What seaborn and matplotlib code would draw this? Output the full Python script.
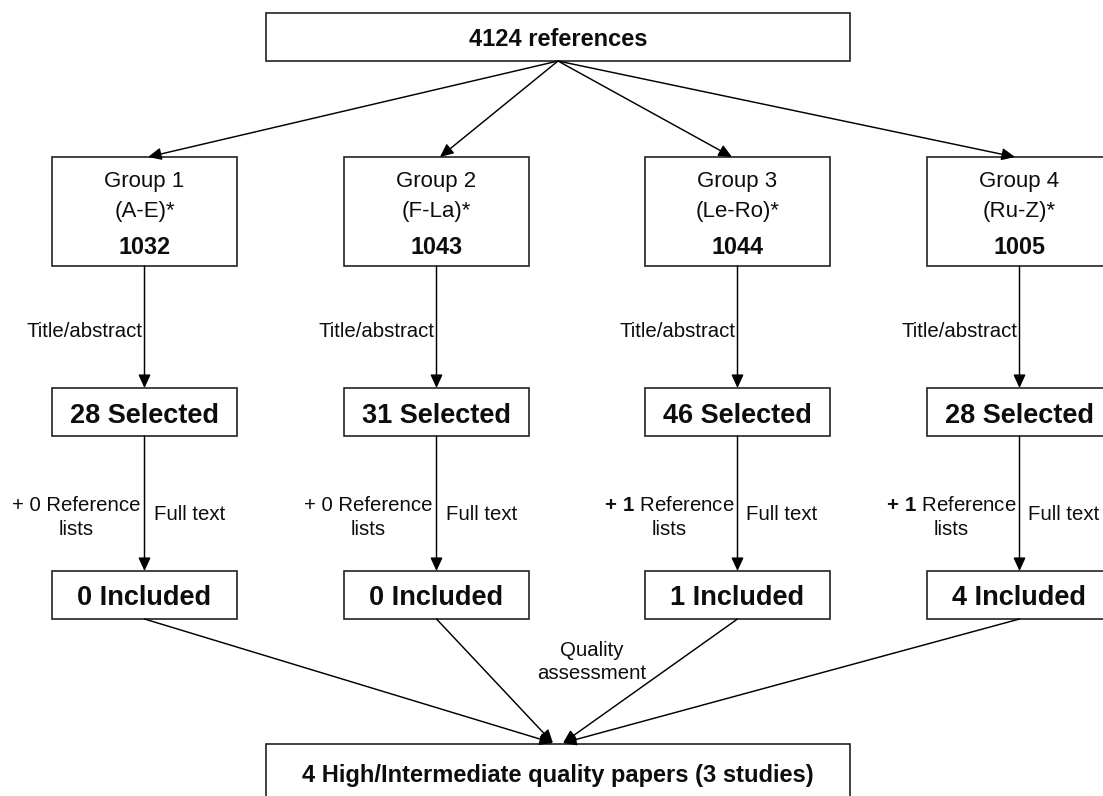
import matplotlib
matplotlib.use("Agg")
import matplotlib.pyplot as plt
import seaborn as sns
from matplotlib.patches import Rectangle

sns.set_theme(style="white")
plt.rcParams["font.family"] = ["Liberation Sans", "DejaVu Sans"]
plt.rcParams["mathtext.fontset"] = "custom"
plt.rcParams["mathtext.rm"] = "Liberation Sans"
plt.rcParams["mathtext.bf"] = "Liberation Sans:bold"

# data
total_refs = 4124
groups = ["Group 1", "Group 2", "Group 3", "Group 4"]
letter_ranges = ["(A-E)*", "(F-La)*", "(Le-Ro)*", "(Ru-Z)*"]
group_counts = [1032, 1043, 1044, 1005]
selected = [28, 31, 46, 28]
ref_list_added = [0, 0, 1, 1]
included = [0, 0, 1, 4]
final_papers = 4
final_studies = 3

# layout (pixel space, y downwards)
W, H = 1103, 796
col_x = [144.5, 436.5, 737.5, 1019.5]
box_w = 185
edge = "#222222"
ink = "#0d0d0d"

fig = plt.figure(figsize=(W / 100, H / 100), dpi=100)
ax = fig.add_axes([0, 0, 1, 1])
ax.set_xlim(0, W)
ax.set_ylim(H, 0)
ax.axis("off")


def box(x0, y0, x1, y1):
    ax.add_patch(Rectangle((x0, y0), x1 - x0, y1 - y0, fill=True,
                           facecolor="white", edgecolor=edge, lw=1.2, zorder=2))


def arrow(p0, p1):
    ax.annotate("", xy=p1, xytext=p0,
                arrowprops=dict(arrowstyle="-|>,head_length=0.5,head_width=0.23",
                                mutation_scale=16, lw=1.05, color="black",
                                shrinkA=0, shrinkB=0), zorder=3)


def label(x, y, s, size, bold=False, ha="center"):
    ax.text(x, y, s, ha=ha, va="baseline", fontsize=size, color=ink,
            fontweight="bold" if bold else "normal", zorder=4)


# top box
box(266, 13, 850, 61)
label(558, 46, f"{total_refs} references", 17, bold=True)

apex = (558, 61)
tips = [148, 440, 732, 1015]

for i, cx in enumerate(col_x):
    # arrow from total to group
    arrow(apex, (tips[i], 157))

    # group box
    box(cx - box_w / 2, 157, cx + box_w / 2, 266)
    label(cx, 187, groups[i], 16)
    label(cx, 217, letter_ranges[i], 16)
    label(cx, 254, str(group_counts[i]), 16.8, bold=True)

    # title/abstract screening
    arrow((cx, 266), (cx, 388))
    label(cx - 2, 337, "Title/abstract", 14.7, ha="right")

    box(cx - box_w / 2, 388, cx + box_w / 2, 436)
    label(cx, 423, f"{selected[i]} Selected", 19.5, bold=True)

    # full text screening
    arrow((cx, 436), (cx, 571))
    n = ref_list_added[i]
    if n > 0:
        ref_txt = r"$\mathbf{+\ " + str(n) + r"}$ Reference"
    else:
        ref_txt = f"+ {n} Reference"
    label(cx - 68, 511, ref_txt, 14.7)
    label(cx - 68, 535, "lists", 14.7)
    label(cx + 9, 520, "Full text", 14.7, ha="left")

    box(cx - box_w / 2, 571, cx + box_w / 2, 619)
    label(cx, 605, f"{included[i]} Included", 19.5, bold=True)

    # converge to final
    end_x = 553 if i < 2 else 563
    arrow((cx, 619), (end_x, 743))

label(592, 656, "Quality", 14.7)
label(592, 679, "assessment", 14.7)

box(266, 744, 850, 820)
label(558, 782, f"{final_papers} High/Intermediate quality papers ({final_studies} studies)",
      17, bold=True)

fig.savefig("out.png", dpi=100)
